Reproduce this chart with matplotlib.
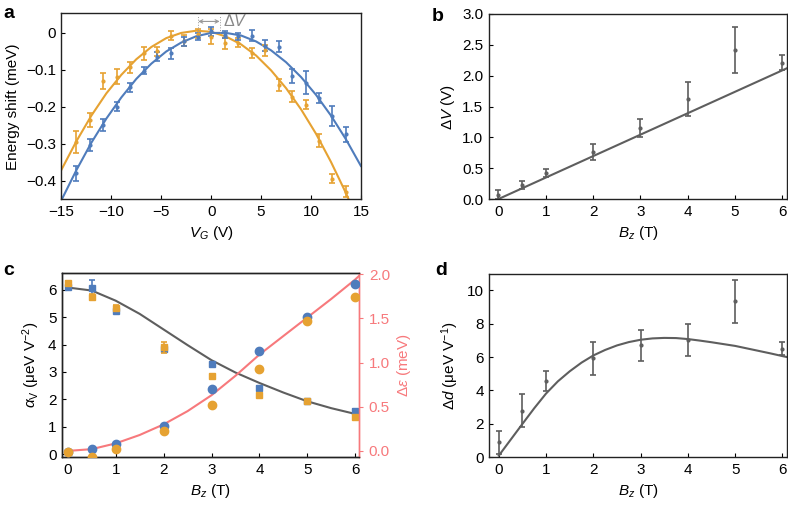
import matplotlib
matplotlib.use("Agg")
import matplotlib.pyplot as plt

plt.rcParams["font.family"] = ["Liberation Sans", "DejaVu Sans"]
plt.rcParams["mathtext.fontset"] = "custom"
plt.rcParams["mathtext.rm"] = "Liberation Sans"
plt.rcParams["mathtext.it"] = "Liberation Sans:italic"
plt.rcParams["font.size"] = 11

BLUE = "#4f7cbc"
ORANGE = "#e6a232"
GREY = "#5e5e5e"
PINK = "#f7797c"

# --- panel a: energy shift vs gate voltage ---
vg = [-13.5, -12.15, -10.8, -9.45, -8.1, -6.75, -5.4, -4.05, -2.7, -1.35, 0,
      1.35, 2.7, 4.05, 5.4, 6.75, 8.1, 9.45, 10.8, 12.15, 13.5]
shift_blue = [-0.380, -0.303, -0.249, -0.200, -0.148, -0.103, -0.065, -0.056, -0.024, -0.011, 0.003,
              -0.006, -0.010, -0.009, -0.035, -0.038, -0.117, -0.135, -0.177, -0.225, -0.275]
err_blue = [0.020, 0.016, 0.016, 0.012, 0.012, 0.010, 0.012, 0.015, 0.012, 0.010, 0.012,
            0.010, 0.010, 0.015, 0.015, 0.015, 0.018, 0.030, 0.013, 0.027, 0.020]
shift_orange = [-0.296, -0.236, -0.130, -0.119, -0.094, -0.056, -0.051, -0.009, -0.022, -0.003, -0.011,
                -0.029, -0.027, -0.056, -0.048, -0.141, -0.173, -0.195, -0.292, -0.394, -0.430]
err_orange = [0.030, 0.020, 0.022, 0.020, 0.015, 0.017, 0.013, 0.012, 0.015, 0.012, 0.020,
              0.015, 0.012, 0.013, 0.015, 0.017, 0.015, 0.012, 0.017, 0.013, 0.015]
fit_vg = [-15, -13.5, -12, -10.5, -9, -7.5, -6, -4.5, -3, -1.5, 0,
          1.5, 3, 4.5, 6, 7.5, 9, 10.5, 12, 13.5, 15]
fit_blue = [-0.452, -0.371, -0.297, -0.232, -0.175, -0.125, -0.084, -0.051, -0.027, -0.010, -0.001,
            -0.001, -0.008, -0.024, -0.048, -0.080, -0.120, -0.168, -0.224, -0.288, -0.360]
fit_orange = [-0.370, -0.293, -0.224, -0.164, -0.114, -0.072, -0.039, -0.015, -0.001, 0.005, 0.002,
              -0.011, -0.032, -0.062, -0.102, -0.150, -0.207, -0.273, -0.349, -0.433, -0.526]
delta_v_ends = [-1.3, 0.85]
a_yticks = [-0.4, -0.3, -0.2, -0.1, 0]
a_yticklabels = ["\u22120.4", "\u22120.3", "\u22120.2", "\u22120.1", "0"]
a_xticks = [-15, -10, -5, 0, 5, 10, 15]
a_xticklabels = ["\u221215", "\u221210", "\u22125", "0", "5", "10", "15"]

# --- panel b: Delta V vs Bz ---
bz = [0, 0.5, 1, 2, 3, 4, 5, 6]
dv = [0.07, 0.22, 0.42, 0.77, 1.15, 1.62, 2.42, 2.21]
dv_err = [0.07, 0.065, 0.07, 0.13, 0.14, 0.28, 0.37, 0.12]
dv_fit_x = [0, 6.1]
dv_fit_y = [0, 2.12]

# --- panel c: alpha_V (squares, left) and Delta eps (circles, right) ---
alpha_blue = [6.09, 6.07, 5.24, 3.85, 3.30, 2.42, 1.93, 1.57]
alpha_blue_err = [0.08, 0.30, 0.08, 0.10, 0.08, 0.08, 0.06, 0.08]
alpha_orange = [6.25, 5.73, 5.34, 3.90, 2.85, 2.15, 1.93, 1.35]
alpha_orange_err = [0.08, 0.10, 0.10, 0.20, 0.06, 0.06, 0.06, 0.06]
eps_blue = [-0.01, 0.02, 0.077, 0.286, 0.70, 1.13, 1.51, 1.894]
eps_orange = [-0.01, -0.064, 0.027, 0.229, 0.514, 0.926, 1.474, 1.74]
fit_bz = [0, 0.5, 1, 1.5, 2, 2.5, 3, 3.5, 4, 4.5, 5, 5.5, 6, 6.1]
alpha_fit = [6.08, 5.97, 5.60, 5.12, 4.55, 3.98, 3.43, 2.98, 2.60, 2.25, 1.93, 1.68, 1.47, 1.43]
eps_fit = [0.0, 0.02, 0.085, 0.18, 0.30, 0.45, 0.63, 0.85, 1.09, 1.30, 1.51, 1.72, 1.94, 1.99]

# --- panel d: Delta d vs Bz ---
dd = [0.9, 2.79, 4.58, 5.93, 6.7, 7.01, 9.34, 6.51]
dd_err = [0.7, 1.0, 0.6, 1.0, 0.95, 0.97, 1.3, 0.4]
dd_fit_bz = [0, 0.25, 0.5, 0.75, 1, 1.25, 1.5, 1.75, 2, 2.25, 2.5, 2.75, 3,
             3.25, 3.5, 3.75, 4, 4.25, 4.5, 4.75, 5, 5.25, 5.5, 5.75, 6, 6.1]
dd_fit = [0.1, 1.05, 2.0, 2.94, 3.82, 4.55, 5.15, 5.67, 6.1, 6.43, 6.7, 6.9, 7.04,
          7.12, 7.15, 7.14, 7.08, 6.99, 6.89, 6.78, 6.67, 6.52, 6.37, 6.22, 6.06, 6.0]


def style(ax):
    ax.tick_params(direction="in", length=3, width=0.8, pad=4)
    for s in ax.spines.values():
        s.set_linewidth(1.0)
        s.set_color("#222222")


fig = plt.figure(figsize=(7.88, 5.05), dpi=100)

# panel a
ax = fig.add_axes([0.078, 0.6053, 0.380, 0.3684])
style(ax)
ax.plot(fit_vg, fit_orange, color=ORANGE, lw=1.5)
ax.plot(fit_vg, fit_blue, color=BLUE, lw=1.5)
ax.errorbar(vg, shift_orange, yerr=err_orange, fmt="o", ms=2, color=ORANGE,
            elinewidth=1.2, capsize=2, capthick=1.2)
ax.errorbar(vg, shift_blue, yerr=err_blue, fmt="o", ms=2, color=BLUE,
            elinewidth=1.2, capsize=2, capthick=1.2)
for xv in delta_v_ends:
    ax.plot([xv, xv], [0.0, 0.048], color="#999999", lw=0.7, ls=":")
ax.annotate("", xy=(delta_v_ends[0], 0.03), xytext=(delta_v_ends[1], 0.03),
            arrowprops=dict(arrowstyle="<->", color="#999999", lw=0.8, shrinkA=0, shrinkB=0,
                            mutation_scale=6))
ax.text(delta_v_ends[1] + 0.3, 0.03, r"$\Delta V$", color="#888888", fontsize=11.5,
        va="center", ha="left")
ax.set_xlim(-15, 15)
ax.set_ylim(-0.45, 0.052)
ax.set_xticks(a_xticks)
ax.set_xticklabels(a_xticklabels)
ax.set_yticks(a_yticks)
ax.set_yticklabels(a_yticklabels)
ax.set_xlabel(r"$V_G$ (V)")
ax.set_ylabel("Energy shift (meV)")

# panel b
ax = fig.add_axes([0.6206, 0.6059, 0.378, 0.3664])
style(ax)
ax.plot(dv_fit_x, dv_fit_y, color=GREY, lw=1.5)
ax.errorbar(bz, dv, yerr=dv_err, fmt="o", ms=2, color=GREY, elinewidth=1.2,
            capsize=2, capthick=1.2)
ax.set_xlim(-0.2, 6.1)
ax.set_ylim(0, 3.0)
ax.set_xticks(range(7))
ax.set_yticks([0, 0.5, 1.0, 1.5, 2.0, 2.5, 3.0])
ax.set_yticklabels(["0.0", "0.5", "1.0", "1.5", "2.0", "2.5", "3.0"])
ax.set_xlabel(r"$B_z$ (T)")
ax.set_ylabel(r"$\Delta V$ (V)")

# panel c
ax = fig.add_axes([0.0787, 0.0945, 0.377, 0.3644])
style(ax)
ax2 = ax.twinx()
ax.plot(fit_bz, alpha_fit, color=GREY, lw=1.5, zorder=3)
ax.errorbar(bz, alpha_blue, yerr=alpha_blue_err, fmt="s", ms=4, color=BLUE,
            elinewidth=1.2, capsize=2, capthick=1.2, zorder=4)
ax.errorbar(bz, alpha_orange, yerr=alpha_orange_err, fmt="s", ms=4, color=ORANGE,
            elinewidth=1.2, capsize=2, capthick=1.2, zorder=5)
ax2.plot(fit_bz, eps_fit, color=PINK, lw=1.5, zorder=3)
ax2.plot(bz, eps_blue, "o", ms=6, color=BLUE, zorder=4)
ax2.plot(bz, eps_orange, "o", ms=6, color=ORANGE, zorder=5)
ax.set_xlim(-0.12, 6.08)
ax.set_ylim(-0.11, 6.6)
ax2.set_ylim(-0.072, 2.01)
ax.set_xticks(range(7))
ax.set_yticks(range(7))
ax2.set_yticks([0, 0.5, 1.0, 1.5, 2.0])
ax2.set_yticklabels(["0.0", "0.5", "1.0", "1.5", "2.0"])
ax2.tick_params(direction="out", length=3, width=0.8, colors=PINK, pad=4)
for s in ax2.spines.values():
    s.set_linewidth(1.0)
    s.set_color("#222222")
ax2.spines["right"].set_color(PINK)
ax.spines["right"].set_color(PINK)
ax.set_xlabel(r"$B_z$ (T)")
ax.set_ylabel(r"$\alpha_{\mathrm{V}}$ ($\mathrm{\mu}$eV V$^{-2}$)")
ax2.set_ylabel(r"$\Delta\varepsilon$ (meV)", color=PINK)

# panel d
ax = fig.add_axes([0.621, 0.0945, 0.378, 0.362])
style(ax)
ax.plot(dd_fit_bz, dd_fit, color=GREY, lw=1.5)
ax.errorbar(bz, dd, yerr=dd_err, fmt="o", ms=2, color=GREY, elinewidth=1.2,
            capsize=2, capthick=1.2)
ax.set_xlim(-0.2, 6.1)
ax.set_ylim(0, 10.95)
ax.set_xticks(range(7))
ax.set_yticks([0, 2, 4, 6, 8, 10])
ax.set_xlabel(r"$B_z$ (T)")
ax.set_ylabel(r"$\Delta d$ ($\mathrm{\mu}$eV V$^{-1}$)")

for label, x, y in [("a", 0.004, 0.99), ("b", 0.548, 0.985),
                    ("c", 0.004, 0.482), ("d", 0.552, 0.482)]:
    fig.text(x, y, label, fontsize=14, fontweight="bold", va="top", ha="left")

fig.savefig("out.png", dpi=100)
